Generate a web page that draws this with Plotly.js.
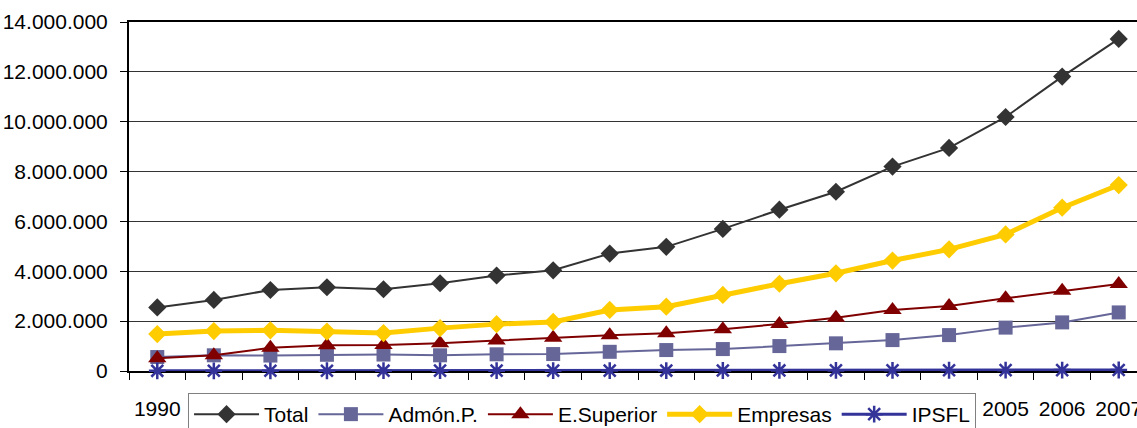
<!DOCTYPE html>
<html>
<head>
<meta charset="utf-8">
<script src="https://cdn.plot.ly/plotly-3.0.1.min.js"></script>
<style>
html, body { margin: 0; padding: 0; overflow: hidden; background: #fff; }
#chart { width: 1150px; height: 440px; }
</style>
</head>
<body>
<div id="chart"></div>
<script>
const years = ["1990","1991","1992","1993","1994","1995","1996","1997","1998","1999","2000","2001","2002","2003","2004","2005","2006","2007"];
const total = [2550000, 2850000, 3250000, 3360000, 3280000, 3520000, 3830000, 4040000, 4710000, 4980000, 5700000, 6470000, 7190000, 8200000, 8950000, 10190000, 11810000, 13320000];
const admon = [560000, 630000, 620000, 650000, 660000, 630000, 670000, 680000, 770000, 840000, 880000, 1000000, 1110000, 1240000, 1440000, 1740000, 1950000, 2350000];
const esuperior = [510000, 630000, 930000, 1030000, 1040000, 1110000, 1220000, 1330000, 1430000, 1510000, 1670000, 1890000, 2140000, 2450000, 2610000, 2920000, 3220000, 3490000];
const empresas = [1480000, 1600000, 1630000, 1580000, 1520000, 1720000, 1880000, 1970000, 2450000, 2580000, 3050000, 3500000, 3920000, 4430000, 4880000, 5480000, 6550000, 7460000];
const ipsfl = [8000, 9000, 10000, 11000, 12000, 13000, 14000, 15000, 16000, 18000, 20000, 22000, 25000, 28000, 30000, 33000, 36000, 40000];
const yTicks = [0, 2000000, 4000000, 6000000, 8000000, 10000000, 12000000, 14000000];

const traces = [
  {name: "Total", x: years, y: total, mode: "lines+markers", cliponaxis: false,
   line: {color: "#333333", width: 2}, marker: {symbol: "diamond", size: 14, color: "#333333"}},
  {name: "Admón.P.", x: years, y: admon, mode: "lines+markers", cliponaxis: false,
   line: {color: "#666699", width: 2}, marker: {symbol: "square", size: 14, color: "#666699"}},
  {name: "E.Superior", x: years, y: esuperior, mode: "lines+markers", cliponaxis: false,
   line: {color: "#800000", width: 2}, marker: {symbol: "triangle-up", size: 16, color: "#800000"}},
  {name: "Empresas", x: years, y: empresas, mode: "lines+markers", cliponaxis: false,
   line: {color: "#FFCC00", width: 5}, marker: {symbol: "diamond", size: 14, color: "#FFCC00"}},
  {name: "IPSFL", x: years, y: ipsfl, mode: "lines+markers", cliponaxis: false,
   line: {color: "#333399", width: 3}, marker: {symbol: "asterisk-open", size: 14, line: {color: "#333399", width: 2.5}}}
];

const layout = {
  width: 1150, height: 440,
  margin: {l: 129, r: 3, t: 22, b: 69},
  paper_bgcolor: "#fff", plot_bgcolor: "#fff",
  separators: ",.",
  font: {family: "Liberation Sans, Arial, sans-serif", size: 21, color: "#000"},
  showlegend: true,
  legend: {orientation: "h", x: 0.058, xanchor: "left", y: -0.063, yanchor: "top",
           bgcolor: "#fff", bordercolor: "#808080", borderwidth: 1,
           font: {size: 21, color: "#000"}, itemwidth: 65, traceorder: "normal"},
  xaxis: {type: "category", range: [-0.5, 17.5], showgrid: false, zeroline: false,
          showline: true, linecolor: "#000", linewidth: 2, mirror: true,
          ticks: "outside", ticklen: 7, tickcolor: "#000", tickwidth: 1, tickson: "boundaries",
          ticklabelstandoff: 18, layer: "below traces", fixedrange: true},
  yaxis: {range: [0, 14000000], tickvals: yTicks, tickformat: ",d",
          showgrid: true, gridcolor: "#333", gridwidth: 1, zeroline: false,
          showline: true, linecolor: "#000", linewidth: 2,
          ticks: "outside", ticklen: 7, tickcolor: "#000", tickwidth: 1,
          ticklabelstandoff: 8, layer: "below traces", fixedrange: true}
};

Plotly.newPlot("chart", traces, layout, {displayModeBar: false, staticPlot: true});
</script>
</body>
</html>
